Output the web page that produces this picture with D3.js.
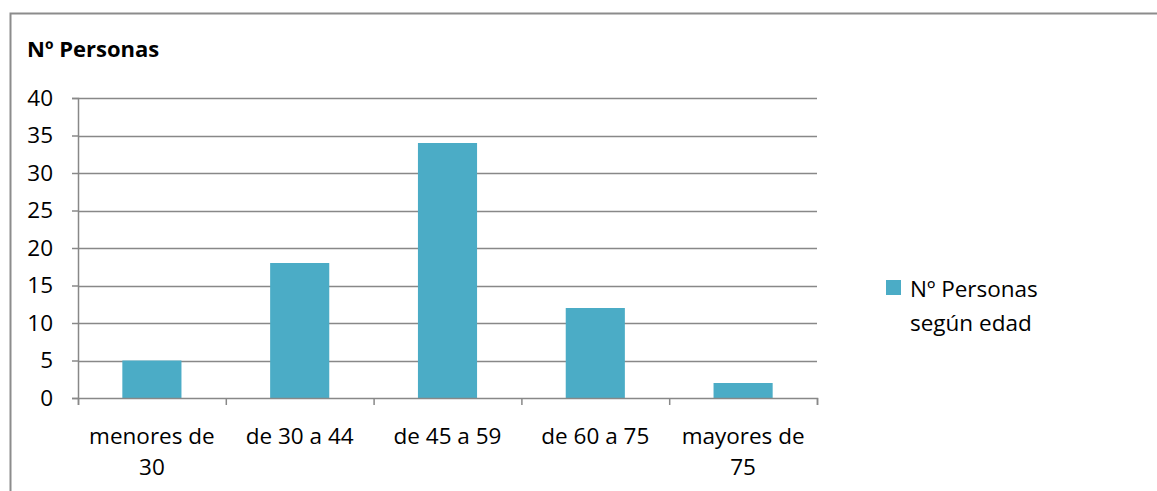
<!DOCTYPE html>
<html>
<head>
<meta charset="utf-8">
<script src="https://cdn.jsdelivr.net/npm/d3@7"></script>
<style>
  body { margin: 0; background: #fff; }
  svg text { font-family: "Open Sans", "Noto Sans", sans-serif; fill: #000; }
</style>
</head>
<body>
<div id="chart"></div>
<script>
// Chart data
const categories = [["menores de", "30"], ["de 30 a 44"], ["de 45 a 59"], ["de 60 a 75"], ["mayores de", "75"]];
const values = [5, 18, 34, 12, 2];
const yTicks = [0, 5, 10, 15, 20, 25, 30, 35, 40];
const chartTitle = "Nº Personas";
const legendLines = ["Nº Personas", "según edad"];

const width = 1157, height = 491;
const plot = { left: 78, right: 817, top: 98, bottom: 398 };
const gridColor = "#888888";
const barColor = "#4BACC6";
const fontSize = 22.5;

const svg = d3.select("#chart").append("svg")
  .attr("width", width)
  .attr("height", height);

// Outer frame (top and left edges visible)
svg.append("path")
  .attr("d", `M10.5,${height} V13.5 H${width}`)
  .attr("fill", "none")
  .attr("stroke", "#8c8c8c")
  .attr("stroke-width", 2);

svg.append("text")
  .attr("x", 27).attr("y", 57)
  .attr("font-size", 22).attr("font-weight", "bold")
  .text(chartTitle);

const x = d3.scaleBand()
  .domain(d3.range(categories.length))
  .range([plot.left, plot.right])
  .paddingInner(0.6)
  .paddingOuter(0.3);

const y = d3.scaleLinear().domain([0, 40]).range([plot.bottom, plot.top]);

// Gridlines
svg.append("g")
  .selectAll("line")
  .data(yTicks.filter(t => t > 0))
  .join("line")
  .attr("x1", plot.left).attr("x2", plot.right)
  .attr("y1", d => Math.round(y(d)) + 0.5).attr("y2", d => Math.round(y(d)) + 0.5)
  .attr("stroke", gridColor).attr("stroke-width", 1.5);

// Bars
svg.append("g")
  .selectAll("rect")
  .data(values)
  .join("rect")
  .attr("x", (d, i) => x(i))
  .attr("y", d => y(d))
  .attr("width", x.bandwidth())
  .attr("height", d => y(0) - y(d))
  .attr("fill", barColor);

// Y axis
const yAxis = svg.append("g")
  .attr("transform", `translate(${plot.left},0)`)
  .call(d3.axisLeft(y).tickValues(yTicks).tickSize(6).tickPadding(19));
yAxis.selectAll("path, line").attr("stroke", gridColor).attr("stroke-width", 1.5);
yAxis.selectAll("text")
  .attr("font-size", fontSize)
  .attr("fill", "#000")
  .style("font-family", "'Open Sans', sans-serif");

// X axis with ticks at category boundaries
const xb = d3.scaleLinear().domain([0, categories.length]).range([plot.left, plot.right]);
const xAxis = svg.append("g")
  .attr("transform", `translate(0,${plot.bottom})`)
  .call(d3.axisBottom(xb).ticks(categories.length).tickSize(7).tickFormat(""));
xAxis.selectAll("path, line").attr("stroke", gridColor).attr("stroke-width", 1.5);

const labels = svg.append("g")
  .selectAll("text")
  .data(categories)
  .join("text")
  .attr("text-anchor", "middle")
  .attr("font-size", fontSize)
  .attr("x", (d, i) => xb(i + 0.5))
  .attr("y", 444);
labels.selectAll("tspan")
  .data(d => d)
  .join("tspan")
  .attr("x", function () { return this.parentNode.getAttribute("x"); })
  .attr("dy", (d, i) => i === 0 ? 0 : 31)
  .text(d => d);

// Legend
const legend = svg.append("g").attr("transform", "translate(886,280)");
legend.append("rect").attr("width", 15).attr("height", 15).attr("fill", barColor);
legend.selectAll("text")
  .data(legendLines)
  .join("text")
  .attr("x", 24)
  .attr("y", (d, i) => 17 + i * 34)
  .attr("font-size", fontSize)
  .text(d => d);
</script>
</body>
</html>
